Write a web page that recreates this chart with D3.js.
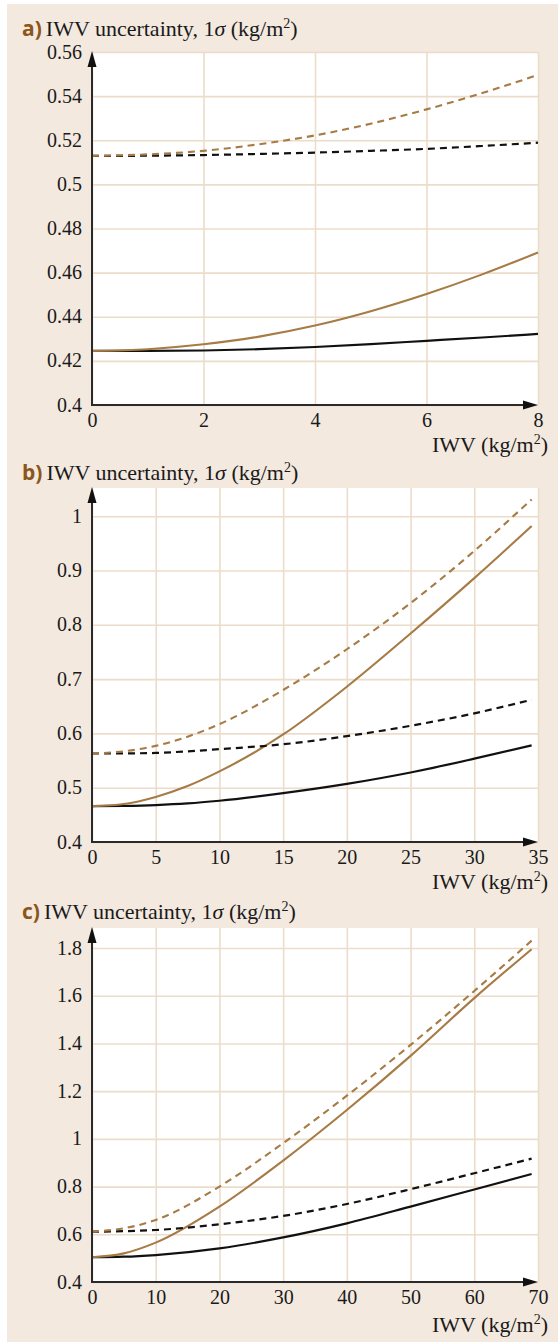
<!DOCTYPE html>
<html>
<head>
<meta charset="utf-8">
<script src="https://cdn.jsdelivr.net/npm/d3@7"></script>
<style>
  html, body { margin: 0; padding: 0; background: #ffffff; }
  svg { display: block; }
</style>
</head>
<body>
<svg id="chart" width="558" height="1342"></svg>
<script>
// ---- Data: IWV uncertainty (1 sigma, kg/m^2) versus IWV (kg/m^2) ----

// Panel a
const iwvA = [0, 1, 2, 3, 4, 5, 6, 7, 8];
const aBlackSolid  = [0.4245, 0.4245, 0.4247, 0.4253, 0.4263, 0.4276, 0.4291, 0.4306, 0.4322];
const aBrownSolid  = [0.4245, 0.4253, 0.4275, 0.4310, 0.4360, 0.4425, 0.4503, 0.4592, 0.4691];
const aBlackDashed = [0.5129, 0.5130, 0.5133, 0.5138, 0.5144, 0.5152, 0.5161, 0.5174, 0.5189];
const aBrownDashed = [0.5129, 0.5136, 0.5152, 0.5182, 0.5222, 0.5275, 0.5340, 0.5414, 0.5496];
const xTicksA = [0, 2, 4, 6, 8];
const yTicksA = [0.4, 0.42, 0.44, 0.46, 0.48, 0.5, 0.52, 0.54, 0.56];

// Panel b
const iwvB = [0, 2.5, 5, 7.5, 10, 15, 20, 25, 30, 34.5];
const bBlackSolid  = [0.466, 0.4665, 0.468, 0.471, 0.476, 0.490, 0.507, 0.528, 0.5535, 0.578];
const bBrownSolid  = [0.466, 0.470, 0.483, 0.503, 0.530, 0.598, 0.686, 0.784, 0.886, 0.982];
const bBlackDashed = [0.563, 0.5632, 0.564, 0.567, 0.571, 0.580, 0.595, 0.614, 0.637, 0.662];
const bBrownDashed = [0.563, 0.567, 0.577, 0.594, 0.617, 0.680, 0.755, 0.840, 0.936, 1.031];
const xTicksB = [0, 5, 10, 15, 20, 25, 30, 35];
const yTicksB = [0.4, 0.5, 0.6, 0.7, 0.8, 0.9, 1];

// Panel c
const iwvC = [0, 5, 10, 20, 30, 40, 50, 60, 69];
const cBlackSolid  = [0.504, 0.506, 0.513, 0.541, 0.587, 0.646, 0.716, 0.788, 0.853];
const cBrownSolid  = [0.504, 0.520, 0.565, 0.716, 0.909, 1.121, 1.348, 1.590, 1.795];
const cBlackDashed = [0.611, 0.613, 0.618, 0.642, 0.677, 0.727, 0.789, 0.856, 0.917];
const cBrownDashed = [0.611, 0.625, 0.660, 0.800, 0.982, 1.181, 1.394, 1.620, 1.831];
const xTicksC = [0, 10, 20, 30, 40, 50, 60, 70];
const yTicksC = [0.4, 0.6, 0.8, 1, 1.2, 1.4, 1.6, 1.8];

// ---- Styling ----
const BG = "#f3e9df";
const GRID = "#ecdcca";
const BROWN = "#a67b45";
const BLACK = "#111111";
const LABEL = "#8a561b";
const SERIF = "'Liberation Serif', 'Times New Roman', serif";
const TEXT_SIZE = 22;
const TICK_SIZE = 20;

const svg = d3.select("#chart");

// beige page panel
svg.append("rect").attr("x", 7).attr("y", 4).attr("width", 551).attr("height", 1338).attr("fill", BG);

const panels = [
  { key: "a)", iwv: iwvA, series: [aBlackSolid, aBrownSolid, aBlackDashed, aBrownDashed],
    xDomain: [0, 8], yDomain: [0.4, 0.56], xTicks: xTicksA, yTicks: yTicksA,
    top: 52, bottom: 405, titleY: 36, xTitleY: 452 },
  { key: "b)", iwv: iwvB, series: [bBlackSolid, bBrownSolid, bBlackDashed, bBrownDashed],
    xDomain: [0, 35], yDomain: [0.4, 1.052], xTicks: xTicksB, yTicks: yTicksB,
    top: 488, bottom: 842, titleY: 480, xTitleY: 889 },
  { key: "c)", iwv: iwvC, series: [cBlackSolid, cBrownSolid, cBlackDashed, cBrownDashed],
    xDomain: [0, 70], yDomain: [0.4, 1.884], xTicks: xTicksC, yTicks: yTicksC,
    top: 928, bottom: 1282, titleY: 919, xTitleY: 1332 }
];

const seriesStyle = [
  { color: BLACK, dash: null, width: 2.2 },
  { color: BROWN, dash: null, width: 2.1 },
  { color: BLACK, dash: "7,5", width: 2.2 },
  { color: BROWN, dash: "7,5", width: 2.1 }
];

const left = 92, right = 538;

panels.forEach(p => {
  const x = d3.scaleLinear().domain(p.xDomain).range([left, right]);
  const y = d3.scaleLinear().domain(p.yDomain).range([p.bottom, p.top]);
  const g = svg.append("g");

  // plot background
  g.append("rect").attr("x", left).attr("y", p.top)
    .attr("width", right - left).attr("height", p.bottom - p.top).attr("fill", "#ffffff");

  // grid
  const gx = g.append("g").attr("transform", `translate(0,${p.bottom})`)
    .call(d3.axisBottom(x).tickValues(p.xTicks).tickSize(-(p.bottom - p.top)).tickFormat(""));
  gx.select(".domain").remove();
  gx.selectAll("line").attr("stroke", GRID).attr("stroke-width", 1.6);

  const gy = g.append("g").attr("transform", `translate(${left},0)`)
    .call(d3.axisLeft(y).tickValues(p.yTicks).tickSize(-(right - left)).tickFormat(""));
  gy.select(".domain").remove();
  gy.selectAll("line").attr("stroke", GRID).attr("stroke-width", 1.6);

  // curves
  const line = d3.line().x(d => x(d[0])).y(d => y(d[1])).curve(d3.curveMonotoneX);
  p.series.forEach((vals, i) => {
    const st = seriesStyle[i];
    g.append("path")
      .datum(p.iwv.map((v, k) => [v, vals[k]]))
      .attr("d", line)
      .attr("fill", "none")
      .attr("stroke", st.color)
      .attr("stroke-width", st.width)
      .attr("stroke-dasharray", st.dash);
  });

  // tick labels
  const lx = g.append("g").attr("transform", `translate(0,${p.bottom})`)
    .call(d3.axisBottom(x).tickValues(p.xTicks).tickSize(0).tickPadding(6).tickFormat(d => String(d)));
  lx.select(".domain").remove();
  lx.attr("font-family", SERIF).attr("font-size", TICK_SIZE);
  lx.selectAll("text").attr("dy", "0.8em").attr("fill", "#1a1a1a")
    .attr("font-family", SERIF).attr("font-size", TICK_SIZE);

  const ly = g.append("g").attr("transform", `translate(${left},0)`)
    .call(d3.axisLeft(y).tickValues(p.yTicks).tickSize(0).tickPadding(10).tickFormat(d => String(d)));
  ly.select(".domain").remove();
  ly.attr("font-family", SERIF).attr("font-size", TICK_SIZE);
  ly.selectAll("text").attr("dy", "0.3em").attr("fill", "#1a1a1a")
    .attr("font-family", SERIF).attr("font-size", TICK_SIZE);

  // axes with arrow heads
  g.append("line").attr("x1", left).attr("x2", right - 10).attr("y1", p.bottom).attr("y2", p.bottom)
    .attr("stroke", "#2a2a2a").attr("stroke-width", 2);
  g.append("path")
    .attr("d", `M${right},${p.bottom} L${right - 15},${p.bottom - 4.5} L${right - 15},${p.bottom + 4.5} Z`)
    .attr("fill", "#111");
  g.append("line").attr("x1", left).attr("x2", left).attr("y1", p.bottom + 1).attr("y2", p.top + 10)
    .attr("stroke", "#2a2a2a").attr("stroke-width", 2);
  g.append("path")
    .attr("d", `M${left},${p.top - 1} L${left - 4.5},${p.top + 15} L${left + 4.5},${p.top + 15} Z`)
    .attr("fill", "#111");

  // panel title
  const t = g.append("text").attr("x", 22).attr("y", p.titleY)
    .attr("font-family", SERIF).attr("font-size", TEXT_SIZE).attr("fill", "#1a1a1a");
  t.append("tspan").text(p.key)
    .attr("font-family", "'Open Sans', 'Noto Sans', sans-serif").attr("font-weight", "bold")
    .attr("font-size", 21).attr("fill", LABEL);
  t.append("tspan").attr("dx", 4).text("IWV uncertainty, 1");
  t.append("tspan").attr("font-style", "italic").text("σ");
  t.append("tspan").text(" (kg/m");
  t.append("tspan").attr("font-size", 14).attr("dy", -8).text("2");
  t.append("tspan").attr("dy", 8).text(")");

  // x axis title
  const xt = g.append("text").attr("x", 548).attr("y", p.xTitleY).attr("text-anchor", "end")
    .attr("font-family", SERIF).attr("font-size", TEXT_SIZE).attr("fill", "#1a1a1a");
  xt.append("tspan").text("IWV (kg/m");
  xt.append("tspan").attr("font-size", 14).attr("dy", -8).text("2");
  xt.append("tspan").attr("dy", 8).text(")");
});
</script>
</body>
</html>
